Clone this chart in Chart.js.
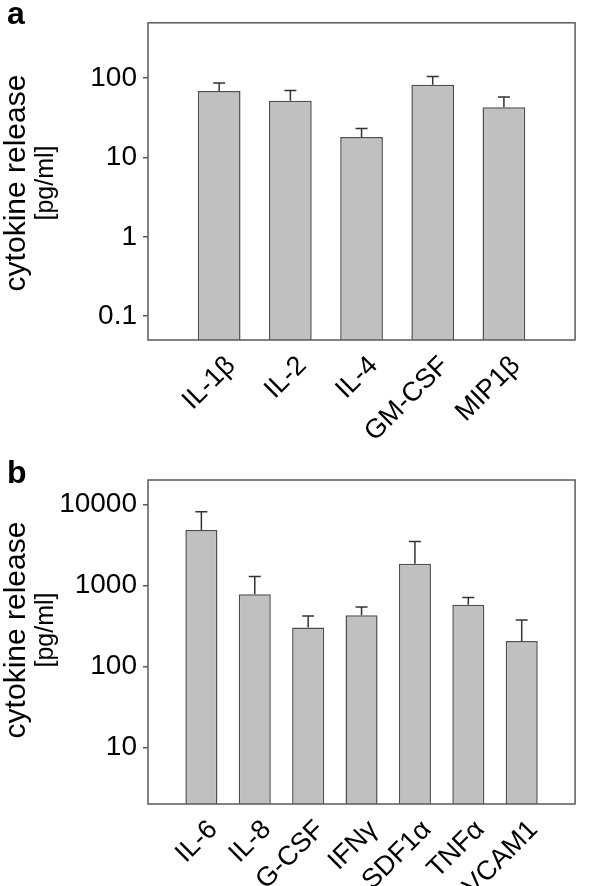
<!DOCTYPE html>
<html>
<head>
<meta charset="utf-8">
<script src="https://cdn.jsdelivr.net/npm/chart.js@4.4.1/dist/chart.umd.min.js"></script>
<style>
  html, body { margin: 0; padding: 0; background: #fff; }
  canvas { display: block; }
</style>
</head>
<body>
<canvas id="chartA" width="600" height="443"></canvas>
<canvas id="chartB" width="600" height="443"></canvas>
<script>
// Panel a
const catsA = ['IL-1β', 'IL-2', 'IL-4', 'GM-CSF', 'MIP1β'];
const valsA = [69, 52, 18.2, 83, 43];
const errA = [18, 18, 5, 22, 15];
const ticksA = [0.1, 1, 10, 100];

// Panel b
const catsB = ['IL-6', 'IL-8', 'G-CSF', 'IFNγ', 'SDF1α', 'TNFα', 'VCAM1'];
const valsB = [4820, 775, 303, 427, 1850, 578, 206];
const errB = [3290, 515, 116, 114, 1640, 133, 168];
const ticksB = [10, 100, 1000, 10000];

const FONT = "'Liberation Sans', Arial, Helvetica, sans-serif";

// error bars, box around the plot, panel letter and the y title
const panelDecor = {
    id: 'panelDecor',
    afterDatasetsDraw(chart, args, o) {
        const { ctx, chartArea: a, scales: { x, y } } = chart;
        ctx.save();
        ctx.strokeStyle = '#333';
        ctx.lineWidth = 1.5;
        o.vals.forEach((v, i) => {
            const px = x.getPixelForValue(i + 1);
            const y0 = y.getPixelForValue(v);
            const y1 = y.getPixelForValue(v + o.errs[i]);
            ctx.beginPath();
            ctx.moveTo(px, y0);
            ctx.lineTo(px, y1);
            ctx.moveTo(px - 6, y1);
            ctx.lineTo(px + 6, y1);
            ctx.stroke();
        });

        ctx.strokeStyle = '#5a5a5a';
        ctx.lineWidth = 1.5;
        ctx.strokeRect(a.left, a.top, a.right - a.left, a.bottom - a.top);

        ctx.fillStyle = '#000';
        ctx.font = 'bold 32px ' + FONT;
        ctx.textAlign = 'left';
        ctx.textBaseline = 'alphabetic';
        ctx.fillText(o.letter, 7, o.letterY);

        ctx.translate(0, o.titleY);
        ctx.rotate(-Math.PI / 2);
        ctx.textAlign = 'center';
        ctx.font = '30px ' + FONT;
        ctx.fillText('cytokine release', 0, 25);
        ctx.font = '25px ' + FONT;
        ctx.fillText('[pg/ml]', 0, 53);
        ctx.restore();
    }
};

function makePanel(id, cats, vals, errs, ticks, yMin, yMax, cfg) {
    const labels = ['', ...cats, ''];
    const data = [null, ...vals, null];
    return new Chart(document.getElementById(id), {
        type: 'bar',
        data: {
            labels: labels,
            datasets: [{
                data: data,
                backgroundColor: '#c0c0c0',
                borderColor: '#4e4e4e',
                borderWidth: 1.5,
                barPercentage: 0.6,
                categoryPercentage: 1
            }]
        },
        options: {
            responsive: false,
            animation: false,
            layout: { padding: { top: cfg.top, right: 2, left: 0, bottom: 0 } },
            plugins: {
                legend: { display: false },
                tooltip: { enabled: false },
                panelDecor: { vals: vals, errs: errs, letter: cfg.letter, letterY: cfg.letterY, titleY: cfg.titleY }
            },
            scales: {
                x: {
                    type: 'category',
                    offset: false,
                    grid: { display: false },
                    border: { display: false },
                    ticks: {
                        autoSkip: false,
                        maxRotation: 45,
                        minRotation: 45,
                        padding: 2,
                        labelOffset: 12,
                        color: '#000',
                        font: { family: FONT, size: 27 }
                    },
                    afterFit: (s) => { s.height = cfg.xH; }
                },
                y: {
                    type: 'logarithmic',
                    min: yMin,
                    max: yMax,
                    grid: { drawOnChartArea: false, tickLength: 5, color: '#5a5a5a', lineWidth: 1.5 },
                    border: { display: false },
                    afterBuildTicks: (s) => { s.ticks = ticks.map(v => ({ value: v })); },
                    ticks: {
                        padding: 6,
                        color: '#000',
                        font: { family: FONT, size: 28 },
                        callback: (v) => String(v)
                    },
                    afterFit: (s) => { s.width = 148; }
                }
            }
        },
        plugins: [panelDecor]
    });
}

makePanel('chartA', catsA, valsA, errA, ticksA, 0.05, 500,
    { top: 16, xH: 103, letter: 'a', letterY: 24, titleY: 183 });
makePanel('chartB', catsB, valsB, errB, ticksB, 2, 20000,
    { top: 37, xH: 82, letter: 'b', letterY: 40, titleY: 187 });
</script>
</body>
</html>
